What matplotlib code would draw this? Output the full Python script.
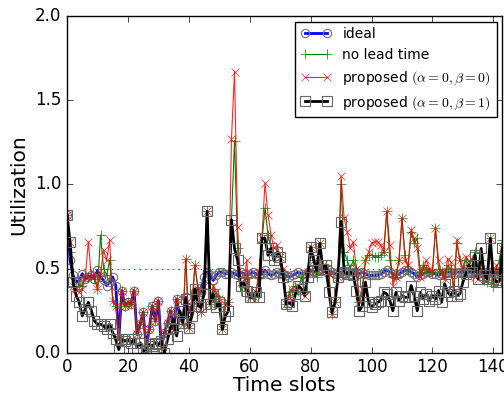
import matplotlib
matplotlib.use('Agg')
import matplotlib.pyplot as plt
import numpy as np

# values, one per time slot (0..143)
ideal = [0.82, 0.55, 0.46, 0.42, 0.43, 0.47, 0.44, 0.45, 0.46, 0.44, 0.49, 0.45,
         0.43, 0.40, 0.42, 0.45, 0.40, 0.08, 0.37, 0.28, 0.30, 0.29, 0.37, 0.11,
         0.17, 0.24, 0.03, 0.14, 0.28, 0.19, 0.31, 0.03, 0.12, 0.18, 0.25, 0.14,
         0.32, 0.22, 0.19, 0.33, 0.24, 0.28, 0.36, 0.37, 0.36, 0.45, 0.48, 0.46,
         0.43, 0.46, 0.48, 0.48, 0.47, 0.47, 0.48, 0.47, 0.46, 0.48, 0.47, 0.46,
         0.47, 0.48, 0.47, 0.46, 0.47, 0.49, 0.47, 0.46, 0.47, 0.48, 0.47, 0.47,
         0.46, 0.45, 0.46, 0.47, 0.48, 0.47, 0.47, 0.48, 0.49, 0.48, 0.49, 0.50,
         0.49, 0.48, 0.49, 0.48, 0.47, 0.48, 0.48, 0.47, 0.48, 0.47, 0.48, 0.48,
         0.47, 0.48, 0.47, 0.46, 0.46, 0.46, 0.46, 0.47, 0.48, 0.49, 0.48, 0.47,
         0.46, 0.47, 0.48, 0.49, 0.49, 0.48, 0.47, 0.45, 0.46, 0.47, 0.48, 0.48,
         0.47, 0.47, 0.46, 0.47, 0.48, 0.48, 0.48, 0.47, 0.48, 0.48, 0.48, 0.48,
         0.48, 0.48, 0.48, 0.48, 0.48, 0.47, 0.48, 0.48, 0.48, 0.47, 0.48, 0.48]

no_lead = [0.82, 0.60, 0.40, 0.38, 0.40, 0.40, 0.45, 0.45, 0.46, 0.44, 0.38, 0.70,
           0.50, 0.46, 0.55, 0.31, 0.28, 0.08, 0.37, 0.28, 0.30, 0.29, 0.37, 0.11,
           0.17, 0.24, 0.03, 0.14, 0.28, 0.19, 0.31, 0.03, 0.12, 0.18, 0.25, 0.14,
           0.32, 0.22, 0.17, 0.56, 0.15, 0.28, 0.52, 0.38, 0.24, 0.42, 0.84, 0.29,
           0.38, 0.34, 0.32, 0.14, 0.29, 0.30, 0.79, 1.26, 0.62, 0.37, 0.40, 0.45,
           0.33, 0.34, 0.36, 0.45, 0.66, 0.86, 0.70, 0.62, 0.55, 0.60, 0.57, 0.45,
           0.29, 0.36, 0.37, 0.40, 0.38, 0.45, 0.36, 0.45, 0.63, 0.55, 0.45, 0.65,
           0.50, 0.52, 0.47, 0.23, 0.30, 0.45, 1.00, 0.60, 0.55, 0.50, 0.55, 0.50,
           0.30, 0.40, 0.55, 0.58, 0.58, 0.57, 0.57, 0.58, 0.60, 0.84, 0.55, 0.45,
           0.45, 0.55, 0.80, 0.58, 0.50, 0.72, 0.65, 0.68, 0.48, 0.52, 0.50, 0.48,
           0.48, 0.74, 0.50, 0.48, 0.45, 0.52, 0.50, 0.38, 0.65, 0.55, 0.50, 0.55,
           0.52, 0.55, 0.60, 0.47, 0.55, 0.43, 0.42, 0.68, 0.40, 0.50, 0.55, 0.67]

prop_b0 = [0.82, 0.66, 0.40, 0.38, 0.36, 0.38, 0.45, 0.66, 0.45, 0.47, 0.38, 0.47,
           0.61, 0.55, 0.67, 0.31, 0.28, 0.08, 0.37, 0.28, 0.30, 0.29, 0.37, 0.11,
           0.17, 0.24, 0.03, 0.14, 0.28, 0.19, 0.31, 0.03, 0.12, 0.18, 0.25, 0.14,
           0.32, 0.22, 0.17, 0.56, 0.15, 0.28, 0.52, 0.38, 0.24, 0.40, 0.84, 0.29,
           0.40, 0.36, 0.32, 0.14, 0.29, 0.30, 1.27, 1.67, 0.75, 0.42, 0.40, 0.55,
           0.33, 0.34, 0.36, 0.48, 0.68, 1.01, 0.82, 0.70, 0.62, 0.64, 0.57, 0.50,
           0.29, 0.33, 0.38, 0.36, 0.40, 0.38, 0.34, 0.48, 0.63, 0.55, 0.50, 0.65,
           0.52, 0.50, 0.47, 0.23, 0.30, 0.45, 1.05, 0.80, 0.72, 0.62, 0.66, 0.50,
           0.30, 0.35, 0.55, 0.60, 0.65, 0.66, 0.66, 0.64, 0.60, 0.84, 0.64, 0.40,
           0.45, 0.55, 0.80, 0.55, 0.52, 0.73, 0.68, 0.62, 0.45, 0.50, 0.55, 0.50,
           0.48, 0.74, 0.55, 0.48, 0.44, 0.56, 0.54, 0.36, 0.67, 0.55, 0.50, 0.57,
           0.54, 0.56, 0.45, 0.44, 0.50, 0.47, 0.43, 0.68, 0.45, 0.52, 0.42, 0.62]

prop_b1 = [0.82, 0.66, 0.42, 0.34, 0.30, 0.22, 0.26, 0.30, 0.25, 0.19, 0.17, 0.17,
           0.16, 0.14, 0.17, 0.12, 0.08, 0.02, 0.08, 0.07, 0.08, 0.06, 0.08, 0.03,
           0.06, 0.01, 0.02, 0.05, 0.04, 0.06, 0.05, 0.07, 0.00, 0.08, 0.15, 0.20,
           0.10, 0.25, 0.18, 0.32, 0.15, 0.22, 0.38, 0.28, 0.27, 0.35, 0.84, 0.29,
           0.35, 0.27, 0.30, 0.14, 0.22, 0.25, 0.79, 0.62, 0.55, 0.40, 0.42, 0.37,
           0.33, 0.33, 0.36, 0.33, 0.68, 0.68, 0.58, 0.62, 0.55, 0.60, 0.57, 0.45,
           0.29, 0.30, 0.28, 0.35, 0.40, 0.38, 0.34, 0.45, 0.63, 0.55, 0.49, 0.65,
           0.50, 0.52, 0.36, 0.24, 0.30, 0.45, 0.78, 0.48, 0.47, 0.49, 0.46, 0.37,
           0.25, 0.28, 0.42, 0.30, 0.27, 0.29, 0.30, 0.31, 0.36, 0.35, 0.31, 0.25,
           0.36, 0.31, 0.34, 0.33, 0.33, 0.40, 0.34, 0.25, 0.36, 0.32, 0.35, 0.31,
           0.34, 0.32, 0.37, 0.30, 0.41, 0.36, 0.34, 0.37, 0.34, 0.35, 0.42, 0.47,
           0.52, 0.48, 0.58, 0.44, 0.62, 0.46, 0.44, 0.68, 0.44, 0.42, 0.43, 0.62]

target = 0.5
slots = np.arange(len(ideal))

plt.style.use('classic')
plt.rcParams['figure.facecolor'] = 'white'
plt.rcParams['savefig.facecolor'] = 'white'

fig = plt.figure(figsize=(5.04, 4.01), dpi=100)
ax = fig.add_axes([0.133, 0.12, 0.864, 0.84])

#target level
ax.plot([slots[0], slots[-1]], [target, target], 'r:', linewidth=0.8)

ax.plot(slots, ideal, color='blue', linewidth=2, marker='o', markersize=6,
        markerfacecolor='none', markeredgecolor='0.45', markeredgewidth=0.8, label='ideal')
ax.plot(slots, no_lead, color='green', linewidth=0.8, marker='+', markersize=7,
        markeredgecolor='green', label='no lead time')
ax.plot(slots, prop_b0, color='red', linewidth=0.8, marker='x', markersize=6,
        markeredgecolor='red', alpha=0.85, label=r'proposed $(\alpha=0, \beta=0)$')
ax.plot(slots, prop_b1, color='black', linewidth=2, marker='s', markersize=7,
        markerfacecolor='none', markeredgecolor='0.4', markeredgewidth=0.8,
        label=r'proposed $(\alpha=0, \beta=1)$')

ax.set_xlim(0, 143)
ax.set_ylim(0, 2.0)
ax.set_xticks([0, 20, 40, 60, 80, 100, 120, 140])
ax.set_yticks([0.0, 0.5, 1.0, 1.5, 2.0])
ax.tick_params(labelsize=12)
ax.set_xlabel('Time slots', fontsize=14.5, labelpad=0)
ax.set_ylabel('Utilization', fontsize=14.5)

ax.legend(loc='upper right', fontsize=10, numpoints=2, handlelength=2.2,
          borderaxespad=0.4, fancybox=False)

plt.savefig('out.png', dpi=100)
